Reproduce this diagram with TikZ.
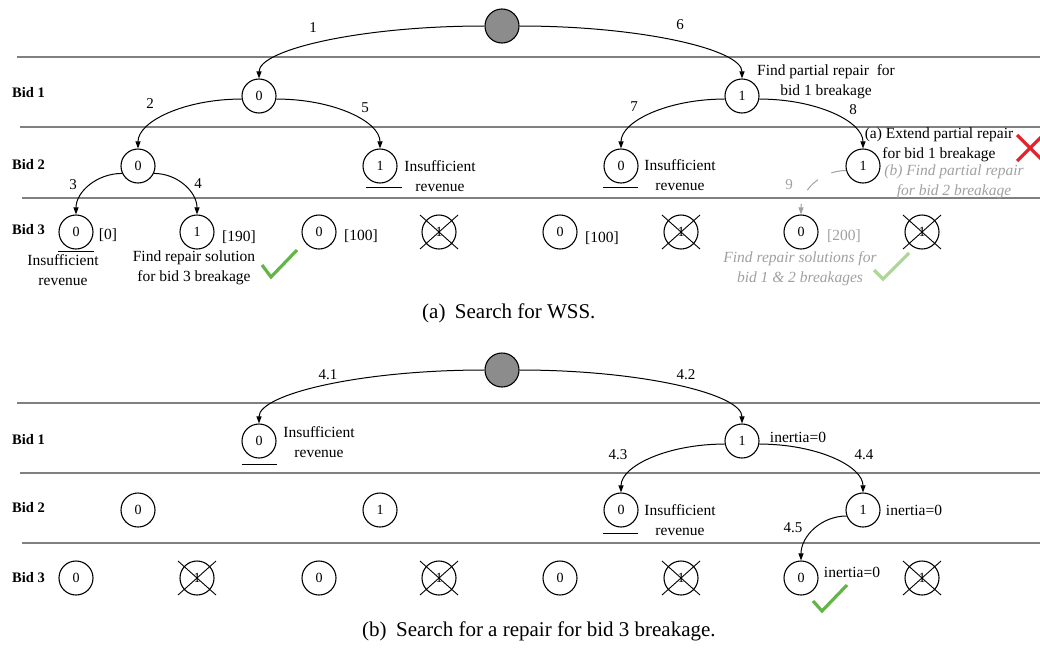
\documentclass[tikz,border=0pt]{standalone}
\usepackage{fontspec}
\setmainfont{Liberation Serif}
\usetikzlibrary{arrows.meta,calc}

\definecolor{lanegray}{HTML}{808080}
\definecolor{rootgray}{HTML}{8C8C8C}
\definecolor{softgray}{HTML}{A0A0A0}
\definecolor{okgreen}{HTML}{62B546}
\definecolor{palegreen}{HTML}{B0D696}
\definecolor{failred}{HTML}{E52129}

\begin{document}
\begin{tikzpicture}[x=1pt,y=-1pt,
  lane/.style={draw=lanegray,line width=1.3pt},
  bidname/.style={font=\fontsize{14.5}{17}\selectfont\bfseries,anchor=west,inner sep=0pt},
  state/.style={circle,draw,line width=1.1pt,minimum size=34pt,inner sep=0pt,font=\fontsize{14}{16}\selectfont},
  rootstate/.style={state,fill=rootgray},
  quarter/.style={to path={let \p1=(\tikztostart),\p2=(\tikztotarget) in
      .. controls ($(\p1)!0.55!(\x2,\y1)$) and ($(\p2)!0.55!(\x2,\y1)$) .. (\tikztotarget) \tikztonodes}},
  branch/.style={quarter,line width=1pt,-{Triangle[length=7pt,width=5pt]}},
  stepno/.style={font=\fontsize{15}{17}\selectfont,inner sep=0pt},
  note/.style={font=\fontsize{15.5}{20}\selectfont,align=center,inner sep=0pt},
  greynote/.style={note,text=softgray,font=\fontsize{15.5}{20}\selectfont\itshape},
  crossline/.style={line width=0.9pt},
  underline/.style={line width=1pt},
  checkmark/.style={line width=3.2pt},
  caption/.style={anchor=base west,inner sep=0pt,font=\fontsize{21}{24}\selectfont},
]
\useasboundingbox (0,0) rectangle (1040,648);

% ================= (a) search for WSS =================
\draw[lane] (17,57) -- (1040,57);
\draw[lane] (20,127) -- (1040,127);
\draw[lane] (22,198) -- (1040,198);

\node[bidname] (ab1) at (12,93) {Bid 1};
\node[bidname] (ab2) at (12,165) {Bid 2};
\node[bidname] (ab3) at (12,230) {Bid 3};

\node[rootstate] (a0) at (502,26) {};
\node[state] (a10) at (259,96) {0};
\node[state] (a11) at (742,96) {1};
\node[state] (a20) at (138,166) {0};
\node[state] (a21) at (380,166) {1};
\node[state] (a22) at (621,166) {0};
\node[state] (a23) at (863,166) {1};
\node[state] (a30) at (76,232) {0};
\node[state] (a31) at (197,232) {1};
\node[state] (a32) at (319,232) {0};
\node[state] (a33) at (439,232) {1};
\node[state] (a34) at (560,232) {0};
\node[state] (a35) at (681,232) {1};
\node[state] (a36) at (801,232) {0};
\node[state] (a37) at (922,232) {1};

\draw[branch] (a0.west) to (a10.north);
\draw[branch] (a0.east) to (a11.north);
\draw[branch] (a10.190) to (a20.north);
\draw[branch] (a10.-10) to (a21.north);
\draw[branch] (a11.190) to (a22.north);
\draw[branch] (a11.-10) to (a23.north);
\draw[branch] (a20.205) to (a30.north);
\draw[branch] (a20.-25) to (a31.north);
\draw[branch,draw=softgray,dash pattern=on 15pt off 15pt] (a23.195) to (a36.north);

\node[stepno] (s1) at (313,28) {1};
\node[stepno] (s6) at (680,25) {6};
\node[stepno] (s2) at (150,104) {2};
\node[stepno] (s5) at (365,108) {5};
\node[stepno] (s7) at (634,107) {7};
\node[stepno] (s8) at (853,110) {8};
\node[stepno] (s3) at (73,185) {3};
\node[stepno] (s4) at (198,184) {4};
\node[stepno,text=softgray] (s9) at (789,185) {9};

\node[note] (n11) at (826,82) {Find partial repair~ for\\bid 1 breakage};
\node[note] (n21) at (440,176) {Insufficient\\revenue};
\node[note] (n22) at (680,175) {Insufficient\\revenue};
\node[note] (n23a) at (939,145) {(a) Extend partial repair\\for bid 1 breakage};
\node[greynote] (n23b) at (954,182) {(b) Find partial repair\\for bid 2 breakage};
\node[note] (n30) at (63,270) {Insufficient\\revenue};
\node[note] (n31) at (194,268) {Find repair solution\\for bid 3 breakage};
\node[greynote] (n36) at (800,269) {Find repair solutions for\\bid 1 \& 2 breakages};

\node[note] (r30) at (108,235) {[0]};
\node[note] (r31) at (239,237) {[190]};
\node[note] (r32) at (361,236) {[100]};
\node[note] (r34) at (602,238) {[100]};
\node[note,text=softgray] (r36) at (844,236) {[200]};

\draw[underline] ($(a21.center)+(-14,21)$) -- ($(a21.center)+(22,21)$);
\draw[underline] ($(a22.center)+(-18,21)$) -- ($(a22.center)+(17,21)$);
\draw[underline] ($(a30.center)+(-18,19)$) -- ($(a30.center)+(18,19)$);

\draw[checkmark,okgreen] (262,265) -- (271,277) -- (297,250);
\draw[checkmark,palegreen] (874,270) -- (883,279) -- (909,253);
\draw[checkmark,failred] (1017,135) -- (1043,161) (1017,161) -- (1043,135);

\node[caption] (capa) at (422,318) {(a)\hspace{0.45em}Search for WSS.};

% ================= (b) repair search for bid 3 =================
\draw[lane] (17,403) -- (1040,403);
\draw[lane] (20,473) -- (1040,473);
\draw[lane] (22,543) -- (1040,543);

\node[bidname] (bb1) at (12,440) {Bid 1};
\node[bidname] (bb2) at (12,508) {Bid 2};
\node[bidname] (bb3) at (12,578) {Bid 3};

\node[rootstate] (b0) at (502,370) {};
\node[state] (b10) at (259,441) {0};
\node[state] (b11) at (742,441) {1};
\node[state] (b20) at (138,510) {0};
\node[state] (b21) at (380,510) {1};
\node[state] (b22) at (621,510) {0};
\node[state] (b23) at (863,510) {1};
\node[state] (b30) at (76,578) {0};
\node[state] (b31) at (197,578) {1};
\node[state] (b32) at (319,578) {0};
\node[state] (b33) at (439,578) {1};
\node[state] (b34) at (560,578) {0};
\node[state] (b35) at (681,578) {1};
\node[state] (b36) at (801,578) {0};
\node[state] (b37) at (922,578) {1};

\draw[branch] (b0.west) to (b10.north);
\draw[branch] (b0.east) to (b11.north);
\draw[branch] (b11.190) to (b22.north);
\draw[branch] (b11.-10) to (b23.north);
\draw[branch] (b23.200) to (b36.north);

\node[stepno] (t1) at (328,375) {4.1};
\node[stepno] (t2) at (686,375) {4.2};
\node[stepno] (t3) at (618,455) {4.3};
\node[stepno] (t4) at (864,455) {4.4};
\node[stepno] (t5) at (793,528) {4.5};

\node[note] (m10) at (319,442) {Insufficient\\revenue};
\node[note] (m11) at (798,437) {inertia=0};
\node[note] (m22) at (680,520) {Insufficient\\revenue};
\node[note] (m23) at (914,510) {inertia=0};
\node[note] (m36) at (852,572) {inertia=0};

\draw[underline] ($(b10.center)+(-17,23)$) -- ($(b10.center)+(18,23)$);
\draw[underline] ($(b22.center)+(-18,23)$) -- ($(b22.center)+(17,23)$);

\draw[checkmark,okgreen] (813,601) -- (822,611) -- (847,585);

\node[caption] (capb) at (362,636) {(b)\hspace{0.45em}Search for a repair for bid 3 breakage.};

% pruned branches are crossed out
\foreach \n in {a33,a35,a37,b31,b33,b35,b37}{
  \draw[crossline] ($(\n.center)+(-19,-17)$) -- ($(\n.center)+(19,17)$)
                   ($(\n.center)+(-19,17)$) -- ($(\n.center)+(19,-17)$);
}
\end{tikzpicture}
\end{document}
